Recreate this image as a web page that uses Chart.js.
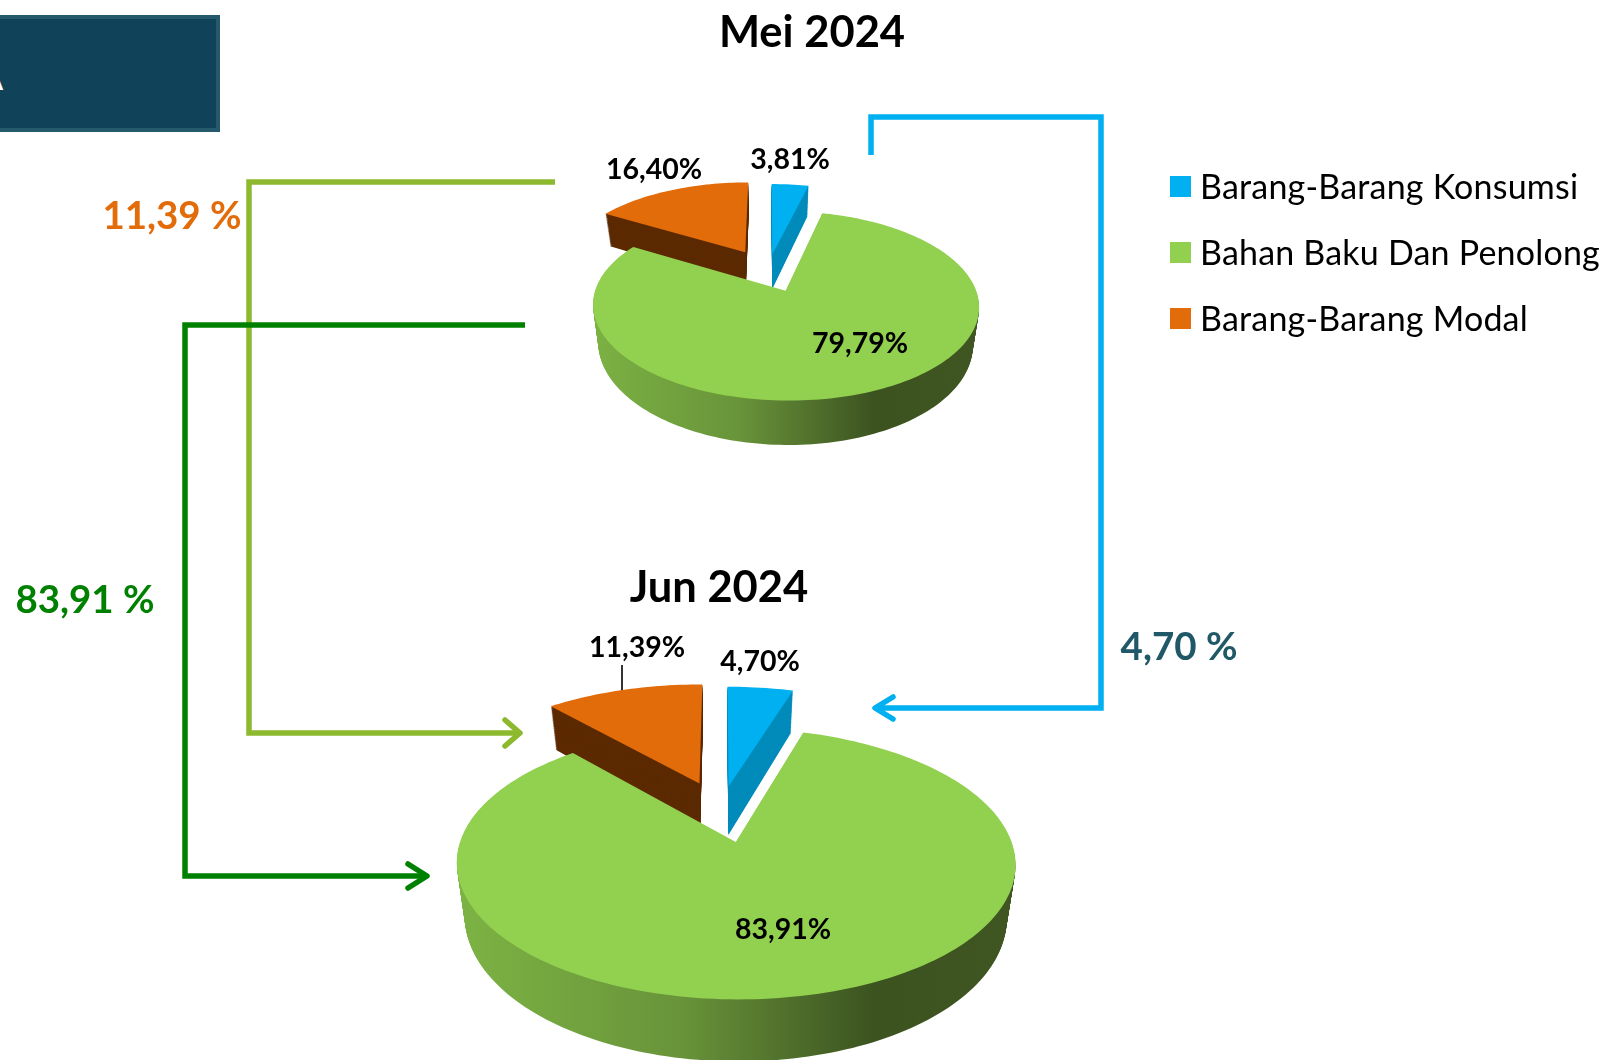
<!DOCTYPE html>
<html>
<head>
<meta charset="utf-8">
<script src="https://cdn.jsdelivr.net/npm/chart.js@4"></script>
<style>
body { margin:0; background:#fff; width:1604px; height:1060px; overflow:hidden; position:relative; font-family:Lato, sans-serif; }
canvas, svg { position:absolute; left:0; top:0; }
.t { position:absolute; white-space:nowrap; transform:translate(-50%,-50%); font-weight:700; line-height:1; }
#box { position:absolute; left:-10px; top:15px; width:222px; height:109px; background:#10425a; border:4px solid #25596c; overflow:hidden; }
#box span { position:absolute; right:213px; top:34px; color:#fff; font:700 42px/1 Lato; }
.leg { position:absolute; left:1200px; font-size:34px; letter-spacing:0.2px; line-height:1; color:#000; white-space:nowrap; transform:translateY(-50%); }
.sw { position:absolute; left:1170px; width:21px; height:21px; }
</style>
</head>
<body>
<div id="box"><span>A</span></div>
<svg width="1604" height="1060" fill="none" stroke-width="5.5">
  <path d="M555 182H249V733H519" stroke="#8db92e"/>
  <path d="M505 720l15 13l-15 13" stroke="#8db92e" stroke-linecap="round" stroke-linejoin="round"/>
  <path d="M525 325H185V876H426" stroke="#008000"/>
  <path d="M408 864l19 12l-19 12" stroke="#008000" stroke-linecap="round" stroke-linejoin="round"/>
  <path d="M871 155V117H1101V708H877" stroke="#00b0f0"/>
  <path d="M893 697l-18 11l18 11" stroke="#00b0f0" stroke-linecap="round" stroke-linejoin="round"/>
  <path d="M622 665V693" stroke="#000" stroke-width="1.6"/>
</svg>
<canvas id="mei" width="1604" height="1060"></canvas>
<canvas id="jun" width="1604" height="1060"></canvas>
<script>
const categories = ['Barang-Barang Konsumsi', 'Bahan Baku Dan Penolong', 'Barang-Barang Modal'];
const colors = ['#00b0f0', '#92d050', '#e26b0a'];
const sideColors = ['#008bbb', null, '#5c2a02'];
const mei2024 = [3.81, 79.79, 16.40];
const jun2024 = [4.70, 83.91, 11.39];

const fmt = v => v.toFixed(2).replace('.', ',') + '%';

// fake 3D pie: the pie controller gives the angles, this projects them onto a tilted disc
const pie3d = {
  id: 'pie3d',
  beforeDatasetsDraw(chart, args, o) {
    const ctx = chart.ctx;
    const arcs = chart.getDatasetMeta(0).data;
    const pr = (u, v, t) => {
      const s = 1 / (1 + o.p * v);
      return [o.cx + o.a * u * s * (1 - t * 0.03), o.cy - o.b * v * s + t * o.depth * s];
    };
    const wedge = (arc, i, t) => {
      const mid = (arc.startAngle + arc.endAngle) / 2;
      const ox = Math.cos(mid) * o.explode[i], oy = -Math.sin(mid) * o.explode[i];
      ctx.beginPath();
      ctx.moveTo(...pr(ox, oy, t));
      const n = Math.ceil((arc.endAngle - arc.startAngle) * 40);
      for (let k = 0; k <= n; k++) {
        const th = arc.startAngle + (arc.endAngle - arc.startAngle) * k / n;
        ctx.lineTo(...pr(ox + Math.cos(th), oy - Math.sin(th), t));
      }
      ctx.closePath();
    };
    const grad = ctx.createLinearGradient(o.cx - o.a, 0, o.cx + o.a * 1.1, 0);
    grad.addColorStop(0, '#7db344');
    grad.addColorStop(0.4, '#69943a');
    grad.addColorStop(0.75, '#3c5320');
    grad.addColorStop(1, '#3f5622');

    // back slices first, the big green one covers their sides
    [2, 0, 1].forEach(i => {
      const side = sideColors[i] || grad;
      for (let d = o.depth; d > 0; d--) {
        wedge(arcs[i], i, d / o.depth);
        ctx.fillStyle = side;
        ctx.fill();
      }
    });
    [2, 0, 1].forEach(i => {
      wedge(arcs[i], i, 0);
      ctx.fillStyle = colors[i];
      ctx.fill();
    });

    ctx.fillStyle = '#000';
    ctx.font = '700 ' + o.labelSize + 'px Lato';
    ctx.textAlign = 'center';
    ctx.textBaseline = 'middle';
    chart.data.datasets[0].data.forEach((v, i) => {
      ctx.fillText(fmt(v), o.labels[i][0], o.labels[i][1]);
    });
    return false;
  }
};

function makePie(id, values, opts) {
  return new Chart(document.getElementById(id), {
    type: 'pie',
    data: { labels: categories, datasets: [{ data: values, backgroundColor: colors, borderWidth: 0 }] },
    options: {
      responsive: false,
      animation: false,
      plugins: { legend: { display: false }, tooltip: { enabled: false }, pie3d: opts }
    },
    plugins: [pie3d]
  });
}

makePie('mei', mei2024, {
  cx: 768, cy: 271, a: 184, b: 86, p: 0.155, depth: 36,
  explode: [0.2, 0.24, 0.26], labelSize: 28.5,
  labels: [[790, 160], [860, 344], [654, 170]]
});
makePie('jun', jun2024, {
  cx: 721, cy: 810, a: 265, b: 122, p: 0.155, depth: 50,
  explode: [0.2, 0.257, 0.24], labelSize: 28.5,
  labels: [[760, 662], [783, 930], [637, 648]]
});

// page text and legend
const texts = [
  ['Mei 2024', 812, 31, 43.5, '#000'],
  ['Jun 2024', 719, 586, 43.5, '#000'],
  ['11,39 %', 172, 214, 38.5, '#e36c0a'],
  ['83,91 %', 85, 598, 38.5, '#008000'],
  ['4,70 %', 1179, 645, 38.5, '#215868']
];
texts.forEach(([s, x, y, size, col]) => {
  const d = document.createElement('div');
  d.className = 't';
  d.textContent = s;
  d.style.cssText = `left:${x}px;top:${y}px;font-size:${size}px;color:${col}`;
  document.body.appendChild(d);
});
categories.forEach((c, i) => {
  const sw = document.createElement('div');
  sw.className = 'sw';
  sw.style.top = (176 + i * 66) + 'px';
  sw.style.background = colors[i];
  document.body.appendChild(sw);
  const l = document.createElement('div');
  l.className = 'leg';
  l.textContent = c;
  l.style.top = (186 + i * 66) + 'px';
  document.body.appendChild(l);
});
</script>
</body>
</html>
